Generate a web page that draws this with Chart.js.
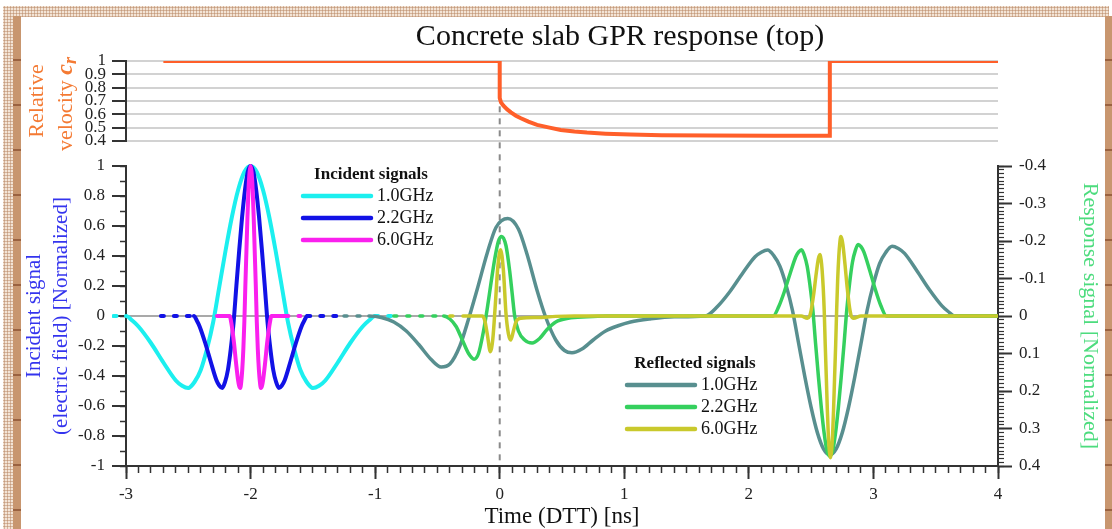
<!DOCTYPE html>
<html>
<head>
<meta charset="utf-8">
<title>Concrete slab GPR response (top)</title>
<script src="https://cdn.jsdelivr.net/npm/chart.js@4.4.1/dist/chart.umd.min.js"></script>
<style>
  html, body { margin: 0; padding: 0; background: #fff; overflow: hidden; }
  #stage { position: relative; width: 1112px; height: 529px; overflow: hidden; background: #fff; }
  .sand { position: absolute; background-color: #f3e4d6;
          background-image: radial-gradient(circle, #c59c7e 0.9px, transparent 1.2px);
          background-size: 3px 3px; }
  .band { position: absolute; background-color: #c8966f;
          background-image: repeating-linear-gradient(to bottom, transparent 0 43px, #9a6240 43px 45px); }
  #panel { position: absolute; left: 21px; top: 17px; width: 1084px; height: 507px; background: #fff; }
  canvas { position: absolute; left: 0; top: 0; }
</style>
</head>
<body>
<div id="stage">
  <div class="sand" style="left:3px; top:6px; width:1106px; height:11px"></div>
  <div class="sand" style="left:3px; top:6px; width:11px; height:523px"></div>
  <div class="band" style="left:13px; top:16px; width:8px; height:513px"></div>
  <div class="band" style="left:1105px; top:16px; width:7px; height:513px"></div>
  <div id="panel"></div>
  <canvas id="velocityChart" width="1240" height="160"></canvas>
  <canvas id="signalChart" width="1112" height="529"></canvas>
</div>
<script>
// ---- time axis ----
const timeMin = -3;
const timeMax = 4;

// ---- relative velocity c_r across the slab ----
const velocityTime  = [-2.7, 0, 0, 0.01, 0.03, 0.06, 0.09, 0.13, 0.17, 0.23, 0.30, 0.40, 0.49, 0.60, 0.70, 0.85, 1.05, 1.30, 1.70, 2.20, 2.65, 2.65, 4.0];
const velocityValue = [1, 1, 0.722, 0.69, 0.665, 0.637, 0.615, 0.59, 0.571, 0.545, 0.521, 0.50, 0.483, 0.471, 0.463, 0.455, 0.448, 0.444, 0.441, 0.44, 0.44, 1, 1];
const velocityTicks = [0.4, 1, 0.1];   // min, max, step

// ---- incident signals (electric field, normalized) ----
const incident10Time  = [-3.10, -3.00, -2.95, -2.90, -2.80, -2.70, -2.60, -2.55, -2.50, -2.45, -2.40, -2.35, -2.30, -2.25, -2.20, -2.15, -2.10, -2.05, -2.00, -1.95, -1.90, -1.85, -1.80, -1.75, -1.70, -1.65, -1.60, -1.55, -1.50, -1.45, -1.40, -1.30, -1.20, -1.10, -1.05, -1.00, -0.80];
const incident10Value = [0, 0, -0.03, -0.07, -0.18, -0.31, -0.43, -0.465, -0.48, -0.44, -0.36, -0.22, -0.04, 0.20, 0.44, 0.66, 0.84, 0.96, 1.00, 0.96, 0.84, 0.66, 0.44, 0.20, -0.04, -0.22, -0.36, -0.44, -0.48, -0.465, -0.43, -0.31, -0.18, -0.07, -0.03, 0, 0];

const incident22Time  = [-2.72, -2.455, -2.432, -2.409, -2.364, -2.318, -2.273, -2.250, -2.227, -2.205, -2.182, -2.159, -2.136, -2.114, -2.091, -2.068, -2.045, -2.023, -2.000, -1.977, -1.955, -1.932, -1.909, -1.886, -1.864, -1.841, -1.818, -1.795, -1.773, -1.750, -1.727, -1.682, -1.636, -1.591, -1.568, -1.545, -1.27];
const incident22Value = [0, 0, -0.03, -0.07, -0.18, -0.31, -0.43, -0.465, -0.48, -0.44, -0.36, -0.22, -0.04, 0.20, 0.44, 0.66, 0.84, 0.96, 1.00, 0.96, 0.84, 0.66, 0.44, 0.20, -0.04, -0.22, -0.36, -0.44, -0.48, -0.465, -0.43, -0.31, -0.18, -0.07, -0.03, 0, 0];

const incident60Time  = [-2.27, -2.167, -2.158, -2.150, -2.133, -2.117, -2.100, -2.092, -2.083, -2.075, -2.067, -2.058, -2.050, -2.042, -2.033, -2.025, -2.017, -2.008, -2.000, -1.992, -1.983, -1.975, -1.967, -1.958, -1.950, -1.942, -1.933, -1.925, -1.917, -1.908, -1.900, -1.883, -1.867, -1.850, -1.842, -1.833, -1.72, -1.60];
const incident60Value = [0, 0, -0.03, -0.07, -0.18, -0.31, -0.43, -0.465, -0.48, -0.44, -0.36, -0.22, -0.04, 0.20, 0.44, 0.66, 0.84, 0.96, 1.00, 0.96, 0.84, 0.66, 0.44, 0.20, -0.04, -0.22, -0.36, -0.44, -0.48, -0.465, -0.43, -0.31, -0.18, -0.07, -0.03, 0, 0, 0];

// ---- reflected (response) signals, normalized ----
const reflected10Time  = [-1.25, -1.05, -0.95, -0.85, -0.75, -0.65, -0.55, -0.47, -0.40, -0.32, -0.25, -0.18, -0.10, -0.03, 0.065, 0.15, 0.22, 0.30, 0.37, 0.45, 0.52, 0.58, 0.66, 0.75, 0.85, 0.95, 1.05, 1.20, 1.40, 1.65, 1.75, 1.85, 1.95, 2.05, 2.10, 2.15, 2.20, 2.25, 2.30, 2.35, 2.40, 2.45, 2.50, 2.55, 2.60, 2.65, 2.70, 2.75, 2.80, 2.85, 2.90, 2.95, 3.00, 3.05, 3.10, 3.15, 3.20, 3.25, 3.35, 3.45, 3.55, 3.60, 3.65, 4.00];
const reflected10Value = [0, 0, 0.004, 0.016, 0.040, 0.076, 0.116, 0.136, 0.128, 0.080, 0.008, -0.072, -0.168, -0.236, -0.260, -0.232, -0.164, -0.068, 0.004, 0.064, 0.092, 0.098, 0.088, 0.064, 0.040, 0.026, 0.016, 0.008, 0.002, 0, -0.026, -0.066, -0.114, -0.158, -0.170, -0.176, -0.161, -0.132, -0.081, -0.015, 0.074, 0.163, 0.244, 0.311, 0.355, 0.370, 0.355, 0.311, 0.244, 0.163, 0.074, -0.016, -0.085, -0.140, -0.170, -0.186, -0.180, -0.167, -0.120, -0.070, -0.027, -0.012, 0, 0];

const reflected22Time  = [-0.85, -0.45, -0.40, -0.35, -0.30, -0.25, -0.206, -0.17, -0.13, -0.10, -0.07, -0.04, -0.01, 0.016, 0.05, 0.08, 0.10, 0.12, 0.15, 0.20, 0.26, 0.32, 0.38, 0.45, 0.55, 0.70, 0.85, 2.195, 2.241, 2.286, 2.332, 2.377, 2.400, 2.423, 2.445, 2.468, 2.491, 2.514, 2.536, 2.559, 2.582, 2.605, 2.627, 2.650, 2.673, 2.695, 2.718, 2.741, 2.764, 2.786, 2.809, 2.832, 2.855, 2.877, 2.900, 2.923, 2.968, 3.014, 3.059, 3.105, 4.00];
const reflected22Value = [0, 0, 0.008, 0.028, 0.064, 0.100, 0.115, 0.100, 0.040, -0.020, -0.088, -0.152, -0.200, -0.212, -0.188, -0.120, -0.060, 0, 0.040, 0.064, 0.072, 0.060, 0.036, 0.016, 0.006, 0.002, 0, 0, -0.026, -0.066, -0.114, -0.158, -0.171, -0.177, -0.162, -0.133, -0.081, -0.015, 0.075, 0.164, 0.246, 0.314, 0.359, 0.374, 0.359, 0.314, 0.246, 0.164, 0.075, -0.016, -0.088, -0.144, -0.175, -0.191, -0.185, -0.171, -0.124, -0.072, -0.028, 0, 0];

const reflected60Time  = [-0.40, -0.26, -0.14, -0.12, -0.10, -0.075, -0.055, -0.035, -0.015, 0.007, 0.03, 0.05, 0.07, 0.088, 0.11, 0.13, 0.17, 0.30, 0.45, 0.60, 2.42, 2.47, 2.488, 2.497, 2.505, 2.522, 2.538, 2.555, 2.563, 2.572, 2.580, 2.588, 2.597, 2.605, 2.613, 2.622, 2.630, 2.638, 2.647, 2.655, 2.663, 2.672, 2.680, 2.688, 2.697, 2.705, 2.713, 2.722, 2.730, 2.738, 2.747, 2.755, 2.772, 2.788, 2.805, 2.813, 2.822, 2.84, 2.90, 4.00];
const reflected60Value = [0, 0, 0, 0.012, 0.048, 0.095, 0.060, -0.032, -0.132, -0.177, -0.120, -0.008, 0.048, 0.064, 0.040, 0.016, 0.006, 0.004, 0.001, 0, 0, 0.006, 0, -0.010, -0.024, -0.062, -0.106, -0.147, -0.159, -0.164, -0.150, -0.123, -0.075, -0.014, 0.076, 0.166, 0.250, 0.318, 0.363, 0.378, 0.363, 0.318, 0.250, 0.166, 0.076, -0.018, -0.097, -0.159, -0.194, -0.212, -0.205, -0.190, -0.137, -0.080, -0.031, -0.013, 0, 0.006, 0, 0];

// ---- tick settings ----
const incidentTicks = [-1, 1, 0.2, 0.1];     // min, max, major step, minor step
const responseTicks = [-0.4, 0.4, 0.1, 0.01];
const timeTicks     = [1, 0.1];              // major step, minor step

// ---- labels ----
const frequencyLabels = ['1.0GHz', '2.2GHz', '6.0GHz'];
const chartTitle = 'Concrete slab GPR response (top)';
const markerTime = 0;          // surface reflection reference
const markerTopVelocity = 0.66;

const serif = '"Liberation Serif", "Times New Roman", serif';
const tickColor = '#333';
const labelColor = '#222';

Chart.defaults.font.family = serif;

const pairs = (t, v) => t.map((x, i) => ({ x, y: v[i] }));
// plain numbers on the axes: 1, 0.9, -1, 0 ...
const plainTick = v => String(Math.round(v * 1000) / 1000);

// dashed look on the flat zero tails of a trace
function tailDash(ctx) {
  const ds = ctx.chart.data.datasets[ctx.datasetIndex];
  const spans = ds.dashedSpans || [];
  const a = ctx.p0.parsed.x, b = ctx.p1.parsed.x;
  for (const [s, e] of spans) {
    if (a >= s - 1e-9 && b <= e + 1e-9) return [3, 10];
  }
  return undefined;
}

function trace(label, color, width, t, v, axis, order, spans) {
  return {
    label, data: pairs(t, v), yAxisID: axis, order,
    borderColor: color, backgroundColor: color, borderWidth: width,
    borderCapStyle: 'round', borderJoinStyle: 'round',
    pointRadius: 0, cubicInterpolationMode: 'monotone', fill: false,
    dashedSpans: spans,
    segment: { borderDash: tailDash },
    clip: { left: 14, right: 0, top: 4, bottom: 4 }
  };
}

// ---- plugin: rotated multi-style axis caption ----
const axisCaption = {
  id: 'axisCaption',
  afterDraw(chart, args, opts) {
    const { ctx, chartArea } = chart;
    const cy = (chartArea.top + chartArea.bottom) / 2;
    ctx.save();
    ctx.fillStyle = opts.color;
    ctx.textBaseline = 'middle';
    ctx.textAlign = 'left';
    for (const line of opts.lines) {
      let total = 0;
      const widths = line.runs.map(r => {
        ctx.font = `${r.style || ''} ${r.size}px ${serif}`;
        const w = ctx.measureText(r.text).width;
        total += w;
        return w;
      });
      ctx.save();
      ctx.translate(chartArea.left + line.offset, cy + (line.shiftY || 0));
      ctx.rotate(-Math.PI / 2);
      let x = -total / 2;
      line.runs.forEach((r, i) => {
        ctx.font = `${r.style || ''} ${r.size}px ${serif}`;
        ctx.fillText(r.text, x, r.rise || 0);
        x += widths[i];
      });
      ctx.restore();
    }
    ctx.restore();
  }
};

// ---- plugin: grouped legends with a heading ----
const groupLegend = {
  id: 'groupLegend',
  afterDatasetsDraw(chart, args, opts) {
    const { ctx, chartArea } = chart;
    ctx.save();
    ctx.textBaseline = 'middle';
    for (const g of opts.groups) {
      const x0 = chartArea.left + g.left;
      const y0 = chartArea.top + g.top;
      ctx.fillStyle = opts.color;
      ctx.font = `bold ${opts.titleSize}px ${serif}`;
      ctx.textAlign = 'center';
      ctx.fillText(g.title, x0 + opts.titleShift, y0);
      g.datasets.forEach((di, i) => {
        const ds = chart.data.datasets[di];
        const y = y0 + opts.titleGap + i * opts.rowGap;
        ctx.strokeStyle = ds.borderColor;
        ctx.lineWidth = opts.sampleWidth;
        ctx.lineCap = 'round';
        ctx.beginPath();
        ctx.moveTo(x0, y);
        ctx.lineTo(x0 + opts.sampleLength, y);
        ctx.stroke();
        ctx.fillStyle = opts.color;
        ctx.font = `${opts.itemSize}px ${serif}`;
        ctx.textAlign = 'left';
        ctx.fillText(ds.label, x0 + opts.sampleLength + opts.textGap, y);
      });
    }
    ctx.restore();
  }
};

// ---- plugin: dashed time reference through both panels ----
let velocityChart;
const timeMarker = {
  id: 'timeMarker',
  beforeDatasetsDraw(chart, args, opts) {
    const { ctx, chartArea, scales } = chart;
    const x = scales.x.getPixelForValue(markerTime);
    const top = velocityChart.scales.y.getPixelForValue(markerTopVelocity);
    ctx.save();
    ctx.strokeStyle = opts.color;
    ctx.lineWidth = opts.width;
    ctx.setLineDash(opts.dash);
    ctx.beginPath();
    ctx.moveTo(x, top);
    ctx.lineTo(x, chartArea.bottom);
    ctx.stroke();
    ctx.restore();
  }
};

// ================= upper panel: relative velocity =================
velocityChart = new Chart(document.getElementById('velocityChart'), {
  type: 'line',
  data: {
    datasets: [{
      label: 'Relative velocity',
      data: pairs(velocityTime, velocityValue),
      borderColor: '#ff5f2a', borderWidth: 4, pointRadius: 0, tension: 0,
      borderJoinStyle: 'miter', fill: false
    }]
  },
  options: {
    responsive: false, animation: false, devicePixelRatio: 1,
    layout: { padding: { left: 0, right: 0, top: 0, bottom: 19 } },
    plugins: {
      legend: { display: false },
      tooltip: { enabled: false },
      title: {
        display: true, text: chartTitle, color: '#111',
        font: { family: serif, size: 30, weight: 'normal', lineHeight: 1.2 },
        padding: { top: 19, bottom: 6 }
      },
      axisCaption: {
        color: '#f47a33',
        lines: [
          { offset: -89, runs: [{ text: 'Relative', size: 22 }] },
          { offset: -60, shiftY: 3, runs: [
            { text: 'velocity ', size: 22 },
            { text: 'c', size: 24, style: 'italic bold' },
            { text: 'r', size: 18, style: 'italic bold', rise: 5 }
          ] }
        ]
      }
    },
    scales: {
      x: { type: 'linear', min: timeMin, max: timeMax, display: false },
      y: {
        type: 'linear', position: 'left',
        min: velocityTicks[0], max: velocityTicks[1],
        afterFit: s => { s.width = 126; },
        ticks: { stepSize: velocityTicks[2], autoSkip: false, padding: 6, color: labelColor, font: { size: 17 }, callback: plainTick },
        grid: { color: '#d2d2d2', lineWidth: 2, tickColor: tickColor, tickLength: 14, tickWidth: 2 },
        border: { display: true, color: tickColor, width: 2 }
      },
      yPad: {
        type: 'linear', position: 'right', min: 0, max: 1,
        afterFit: s => { s.width = 242; },
        ticks: { display: false }, grid: { display: false, drawTicks: false }, border: { display: false }
      }
    }
  },
  plugins: [axisCaption]
});

// ================= lower panel: incident and reflected signals =================
const palette = {
  inc10: '#1cefef', inc22: '#1212e6', inc60: '#fa20ee',
  ref10: '#588f8f', ref22: '#35d05e', ref60: '#c9c92c'
};

new Chart(document.getElementById('signalChart'), {
  type: 'line',
  data: {
    datasets: [
      trace(frequencyLabels[0], palette.inc10, 4, incident10Time, incident10Value, 'y', 6, [[-3.1, -3.0], [-1.0, -0.8]]),
      trace(frequencyLabels[1], palette.inc22, 4, incident22Time, incident22Value, 'y', 5, [[-2.72, -2.455], [-1.545, -1.27]]),
      trace(frequencyLabels[2], palette.inc60, 4, incident60Time, incident60Value, 'y', 4, [[-1.72, -1.6]]),
      trace(frequencyLabels[0], palette.ref10, 3.5, reflected10Time, reflected10Value, 'yR', 3, [[-1.25, -1.05]]),
      trace(frequencyLabels[1], palette.ref22, 3.5, reflected22Time, reflected22Value, 'yR', 2, [[-0.85, -0.45]]),
      trace(frequencyLabels[2], palette.ref60, 3.5, reflected60Time, reflected60Value, 'yR', 1, [[-0.40, -0.26]])
    ]
  },
  options: {
    responsive: false, animation: false, devicePixelRatio: 1,
    layout: { padding: { left: 0, right: 0, top: 166, bottom: 0 } },
    plugins: {
      legend: { display: false },
      tooltip: { enabled: false },
      title: { display: false },
      timeMarker: { color: '#8a8a8a', width: 2, dash: [6, 6] },
      groupLegend: {
        color: '#111', titleSize: 17, itemSize: 18, sampleLength: 68, sampleWidth: 4.5,
        textGap: 6, titleGap: 21, rowGap: 22, titleShift: 68,
        groups: [
          { title: 'Incident signals', datasets: [0, 1, 2], left: 177, top: 9 },
          { title: 'Reflected signals', datasets: [3, 4, 5], left: 501, top: 198 }
        ]
      }
    },
    scales: {
      x: {
        type: 'linear', position: 'bottom', min: timeMin, max: timeMax,
        afterFit: s => { s.height = 63; },
        ticks: { stepSize: timeTicks[0], autoSkip: false, maxRotation: 0, padding: 5, color: labelColor, font: { size: 17 }, callback: plainTick },
        grid: { drawOnChartArea: false, tickColor: tickColor, tickLength: 13, tickWidth: 2 },
        border: { display: true, color: tickColor, width: 2 },
        title: { display: true, text: 'Time (DTT) [ns]', color: '#111', font: { size: 23, lineHeight: 1 }, padding: { top: 0, bottom: 0.5 } }
      },
      xMinor: {
        type: 'linear', position: { y: incidentTicks[0] }, min: timeMin, max: timeMax,
        ticks: { stepSize: timeTicks[1], display: false },
        grid: { drawOnChartArea: false, tickColor: tickColor, tickLength: 7, tickWidth: 1.5 },
        border: { display: false }
      },
      y: {
        type: 'linear', position: 'left', min: incidentTicks[0], max: incidentTicks[1],
        afterFit: s => { s.width = 126; },
        ticks: { stepSize: incidentTicks[2], autoSkip: false, padding: 7, color: labelColor, font: { size: 17 }, callback: plainTick },
        grid: {
          color: c => Math.abs(c.tick.value) < 1e-9 ? '#a9a9a9' : 'rgba(0,0,0,0)',
          lineWidth: 2, tickColor: tickColor, tickLength: 14, tickWidth: 2
        },
        border: { display: true, color: tickColor, width: 2 },
        title: {
          display: true, text: ['Incident signal', '(electric field) [Normalized]'], color: '#3434ee',
          font: { size: 21, lineHeight: 1.3 }, padding: { top: 21, bottom: 0 }
        }
      },
      yMinor: {
        type: 'linear', position: { x: timeMin }, min: incidentTicks[0], max: incidentTicks[1],
        ticks: { stepSize: incidentTicks[3], display: false },
        grid: { drawOnChartArea: false, tickColor: tickColor, tickLength: 6, tickWidth: 1.5 },
        border: { display: false }
      },
      yRMinor: {
        type: 'linear', position: 'right', reverse: true, min: responseTicks[0], max: responseTicks[1],
        afterFit: s => { s.width = 0; },
        ticks: { stepSize: responseTicks[3], display: false },
        grid: { drawOnChartArea: false, tickColor: tickColor, tickLength: 6, tickWidth: 1.2 },
        border: { display: false }
      },
      yR: {
        type: 'linear', position: 'right', reverse: true, min: responseTicks[0], max: responseTicks[1],
        afterFit: s => { s.width = 114; },
        ticks: { stepSize: responseTicks[2], autoSkip: false, padding: 7, color: labelColor, font: { size: 17 }, callback: plainTick },
        grid: { drawOnChartArea: false, tickColor: tickColor, tickLength: 14, tickWidth: 2 },
        border: { display: true, color: tickColor, width: 2 },
        title: {
          display: true, text: 'Response signal [Normalized]', color: '#4ddc7e',
          font: { size: 22, lineHeight: 1.2 }, padding: { top: 9, bottom: 0 }
        }
      }
    }
  },
  plugins: [timeMarker, groupLegend]
});
</script>
</body>
</html>
